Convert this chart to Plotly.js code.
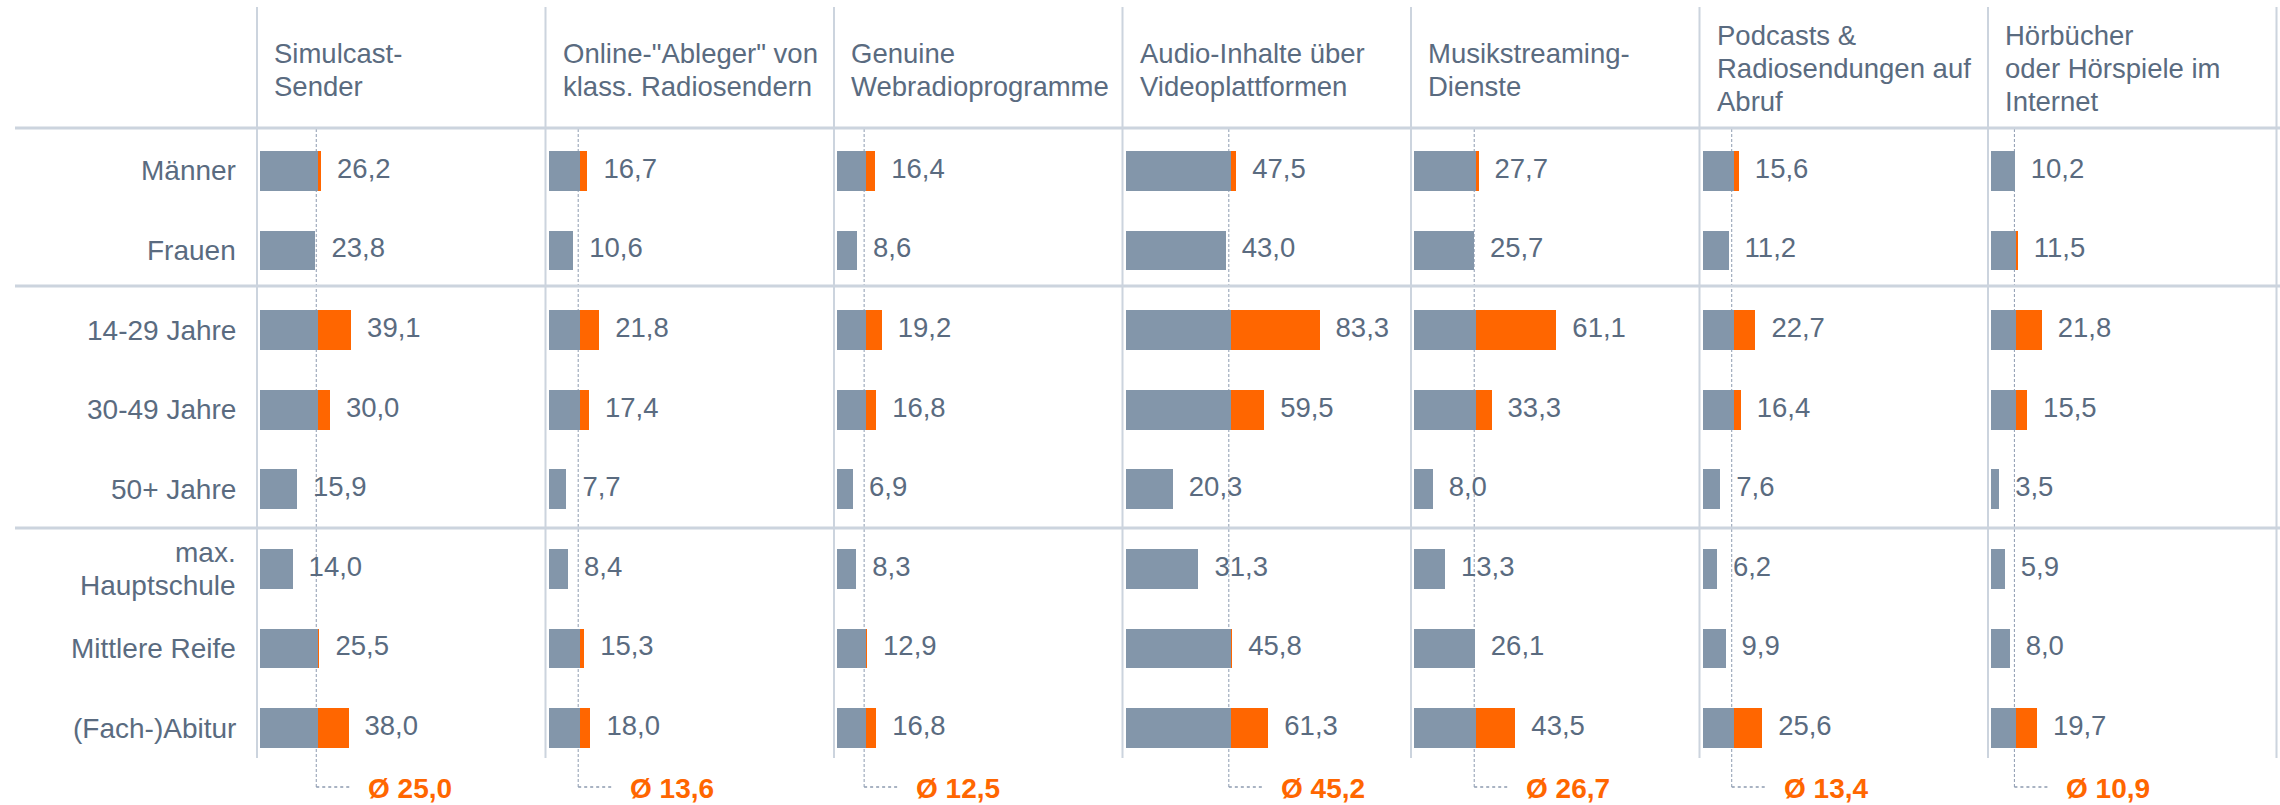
<!DOCTYPE html>
<html><head><meta charset="utf-8">
<script src="https://cdn.plot.ly/plotly-3.0.1.min.js"></script>
<style>html,body{margin:0;padding:0;background:#fff;}#chart{width:2280px;height:805px;}</style>
</head><body><div id="chart"></div>
<script>
const categories = ["Männer","Frauen","14-29 Jahre","30-49 Jahre","50+ Jahre","max. Hauptschule","Mittlere Reife","(Fach-)Abitur"];
const categoryLabels = ["Männer","Frauen","14-29 Jahre","30-49 Jahre","50+ Jahre","max.<br>Hauptschule","Mittlere Reife","(Fach-)Abitur"];
const panelTitles = [
  "Simulcast-<br>Sender",
  "Online-\"Ableger\" von<br>klass. Radiosendern",
  "Genuine<br>Webradioprogramme",
  "Audio-Inhalte über<br>Videoplattformen",
  "Musikstreaming-<br>Dienste",
  "Podcasts &amp;<br>Radiosendungen auf<br>Abruf",
  "Hörbücher<br>oder Hörspiele im<br>Internet"
];
const simulcast   = [26.2, 23.8, 39.1, 30.0, 15.9, 14.0, 25.5, 38.0];
const onlineAbleger = [16.7, 10.6, 21.8, 17.4, 7.7, 8.4, 15.3, 18.0];
const webradio    = [16.4, 8.6, 19.2, 16.8, 6.9, 8.3, 12.9, 16.8];
const videoAudio  = [47.5, 43.0, 83.3, 59.5, 20.3, 31.3, 45.8, 61.3];
const musikstreaming = [27.7, 25.7, 61.1, 33.3, 8.0, 13.3, 26.1, 43.5];
const podcasts    = [15.6, 11.2, 22.7, 16.4, 7.6, 6.2, 9.9, 25.6];
const hoerbuecher = [10.2, 11.5, 21.8, 15.5, 3.5, 5.9, 8.0, 19.7];
const averages    = [25.0, 13.6, 12.5, 45.2, 26.7, 13.4, 10.9];

const series = [simulcast, onlineAbleger, webradio, videoAudio, musikstreaming, podcasts, hoerbuecher];

const W = 2280, H = 805;
const FONT = 'Arial, "Liberation Sans", sans-serif';
const TEXT = '#5a6b80';
const GRAY = '#8396aa';
const ORANGE = '#ff6600';
const LINE = '#ccd4de';
const DOT = '#8d9bb0';
const panelLeft0 = 257, panelW = 288.5, pxPerUnit = 2.33;
const FS_HEAD = 27.5, FS_CAT = 28, FS_VAL = 27.5, FS_AVG = 28;
const LINE_GAP = 32.7;
const px = x => x / W;
const py = y => 1 - y / H;
const fmt = v => v.toFixed(1).replace('.', ',');

const traces = [];
const shapes = [];
const annotations = [];
const layout = {
  width: W, height: H,
  margin: {l: 0, r: 0, t: 0, b: 0},
  paper_bgcolor: '#fff', plot_bgcolor: 'rgba(0,0,0,0)',
  showlegend: false,
  barmode: 'stack',
  bargap: 0.5,
  font: {family: FONT, color: TEXT, size: FS_VAL},
  yaxis: {
    domain: [py(768), py(131)],
    type: 'category', categoryorder: 'array', categoryarray: categories,
    range: [7.5, -0.5],
    showticklabels: false, ticks: '',
    showgrid: false, zeroline: false, showline: false,
    anchor: 'x', fixedrange: true
  }
};

series.forEach((vals, i) => {
  const ax = i === 0 ? '' : String(i + 1);
  const xref = 'x' + ax;
  const avg = averages[i];
  const base = vals.map(v => Math.min(v, avg));
  const over = vals.map(v => Math.max(v - avg, 0));
  traces.push({type: 'bar', orientation: 'h', x: base, y: categories, xaxis: xref, yaxis: 'y',
    marker: {color: GRAY, line: {width: 0}}, hoverinfo: 'skip'});
  traces.push({type: 'bar', orientation: 'h', x: over, y: categories, xaxis: xref, yaxis: 'y',
    marker: {color: ORANGE, line: {width: 0}}, hoverinfo: 'skip'});
  traces.push({type: 'scatter', mode: 'markers+text', x: vals, y: categories, xaxis: xref, yaxis: 'y',
    text: vals.map(fmt), textposition: 'middle right',
    textfont: {family: FONT, size: FS_VAL, color: TEXT},
    marker: {size: 24, opacity: 0}, cliponaxis: false, hoverinfo: 'skip'});

  const L = panelLeft0 + panelW * i;
  const d0 = L + 3, d1 = L + panelW - 2;
  layout['xaxis' + ax] = {
    domain: [px(d0), px(d1)], range: [0, (d1 - d0) / pxPerUnit],
    anchor: 'y', visible: false, fixedrange: true
  };

  // average dotted line + label
  shapes.push({type: 'line', xref: xref, yref: 'paper', xsizemode: 'pixel', xanchor: avg, x0: -2, x1: -2,
    y0: py(129), y1: py(787), line: {color: DOT, width: 1, dash: '3px,2px'}, layer: 'below'});
  shapes.push({type: 'line', xref: xref, yref: 'paper', xsizemode: 'pixel', xanchor: avg, x0: -2, x1: 34,
    y0: py(787), y1: py(787), line: {color: DOT, width: 1.5, dash: 'dot'}, layer: 'below'});
  annotations.push({xref: xref, yref: 'paper', x: avg, y: py(788), xanchor: 'left', yanchor: 'middle',
    xshift: 48, showarrow: false, text: '<b>Ø ' + fmt(avg) + '</b>',
    font: {family: FONT, size: FS_AVG, color: ORANGE}});

  // panel title, one annotation per line for tighter line spacing
  const lines = panelTitles[i].split('<br>');
  lines.forEach((t, k) => {
    const yc = 68.5 + (k - (lines.length - 1) / 2) * LINE_GAP + (lines.length === 2 ? 1.5 : 0);
    annotations.push({xref: 'paper', yref: 'paper', x: px(L + 15), y: py(yc), xanchor: 'left', yanchor: 'middle',
      showarrow: false, text: t, font: {family: FONT, size: FS_HEAD, color: TEXT}});
  });
});

// category labels
categories.forEach((c, j) => {
  const lines = categoryLabels[j].split('<br>');
  lines.forEach((t, k) => {
    annotations.push({xref: 'paper', yref: 'y', x: px(238), y: c, xanchor: 'right', yanchor: 'middle',
      yshift: ((lines.length - 1) / 2 - k) * LINE_GAP, showarrow: false, text: t,
      font: {family: FONT, size: FS_CAT, color: TEXT}});
  });
});

// panel separator lines
for (let i = 0; i <= series.length; i++) {
  const L = Math.min(panelLeft0 + panelW * i, W - 2);
  shapes.push({type: 'line', xref: 'paper', yref: 'paper', x0: px(L), x1: px(L), y0: py(7), y1: py(758),
    line: {color: LINE, width: 2}, layer: 'below'});
}
// horizontal group separators
[128, 286, 528].forEach(y => {
  shapes.push({type: 'line', xref: 'paper', yref: 'paper', x0: px(15), x1: 1, y0: py(y), y1: py(y),
    line: {color: LINE, width: 3}, layer: 'below'});
});

layout.shapes = shapes;
layout.annotations = annotations;

Plotly.newPlot('chart', traces, layout, {displayModeBar: false, staticPlot: true});
</script>
</body></html>
